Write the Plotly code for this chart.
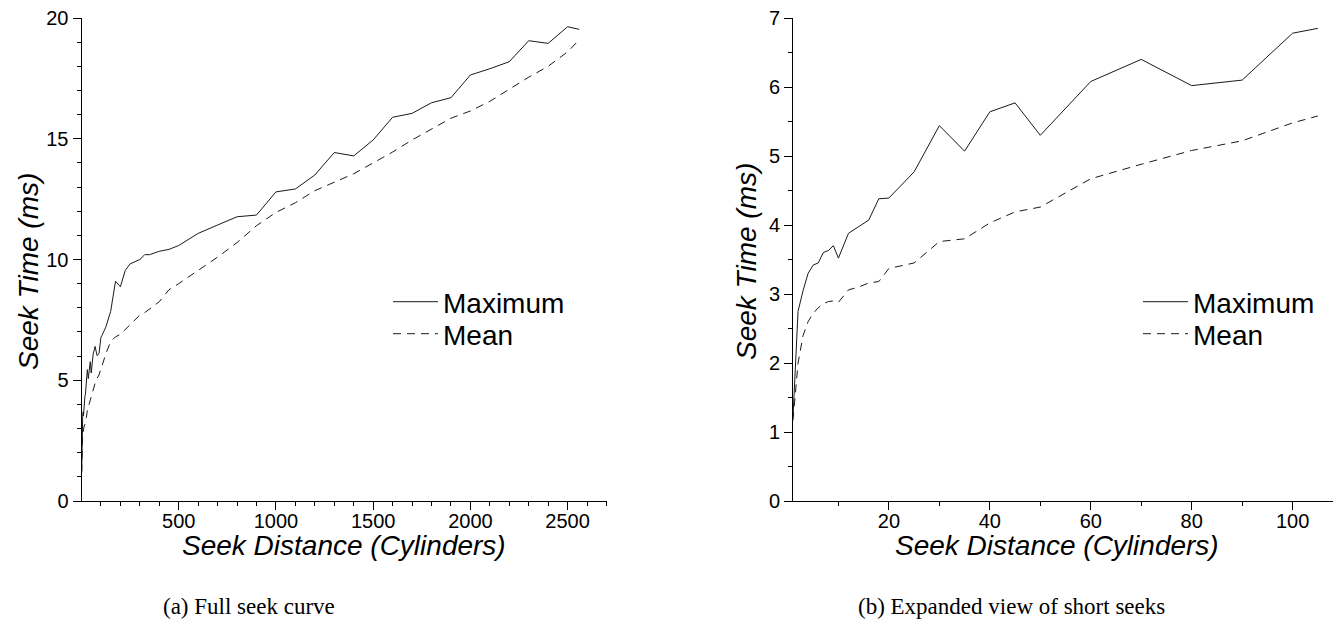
import plotly.graph_objects as go

# ---- data ----
seek_distance = [1, 2, 3, 4, 5, 6, 7, 8, 9, 10, 12, 14, 16, 18, 20, 25, 30, 35, 40, 45, 50,
                 60, 70, 80, 90, 100, 105, 125, 150, 175, 200, 225, 250, 300, 325, 350, 400,
                 450, 500, 600, 700, 800, 900, 1000, 1100, 1200, 1300, 1400, 1500, 1600,
                 1700, 1800, 1900, 2000, 2100, 2200, 2300, 2400, 2500, 2560]
max_seek_time = [1.22, 2.75, 3.05, 3.3, 3.42, 3.45, 3.6, 3.63, 3.7, 3.52, 3.88, 3.98, 4.07,
                 4.38, 4.39, 4.77, 5.44, 5.07, 5.64, 5.77, 5.3, 6.08, 6.4, 6.02, 6.1, 6.78,
                 6.85, 7.2, 7.85, 9.1, 8.87, 9.55, 9.82, 10.0, 10.2, 10.2, 10.34, 10.42,
                 10.58, 11.08, 11.43, 11.77, 11.84, 12.8, 12.92, 13.5, 14.43, 14.29, 14.95,
                 15.89, 16.05, 16.49, 16.7, 17.64, 17.9, 18.19, 19.06, 18.95, 19.64, 19.53]
mean_seek_time = [1.17, 2.0, 2.4, 2.6, 2.72, 2.8, 2.86, 2.89, 2.9, 2.88, 3.06, 3.1, 3.16,
                  3.18, 3.37, 3.45, 3.76, 3.8, 4.03, 4.19, 4.26, 4.67, 4.88, 5.08, 5.22,
                  5.48, 5.58, 6.1, 6.6, 6.8, 6.9, 7.1, 7.3, 7.7, 7.8, 7.95, 8.25, 8.75, 9.0,
                  9.55, 10.1, 10.7, 11.4, 11.95, 12.35, 12.85, 13.2, 13.55, 14.0, 14.45,
                  14.95, 15.4, 15.85, 16.15, 16.55, 17.05, 17.55, 18.0, 18.6, 19.1]

SHORT_LIMIT = 105
short_idx = [i for i, d in enumerate(seek_distance) if d <= SHORT_LIMIT]
short_distance = [seek_distance[i] for i in short_idx]
short_max = [max_seek_time[i] for i in short_idx]
short_mean = [mean_seek_time[i] for i in short_idx]

left_x_ticks = [500, 1000, 1500, 2000, 2500]
left_x_minor = list(range(100, 2701, 100))
left_y_ticks = [0, 5, 10, 15, 20]
left_y_minor = list(range(0, 21))
right_x_ticks = [20, 40, 60, 80, 100]
right_x_minor = [10, 30, 50, 70, 90]
right_y_ticks = [0, 1, 2, 3, 4, 5, 6, 7]
right_y_minor = [0.5, 1.5, 2.5, 3.5, 4.5, 5.5, 6.5]

series_names = ["Maximum", "Mean"]
caption_a = "(a) Full seek curve"
caption_b = "(b) Expanded view of short seeks"
x_title = "Seek Distance (Cylinders)"
y_title = "Seek Time (ms)"

LINE_COLOR = "#1a1a1a"
SANS = "Liberation Sans, Arial, Helvetica, sans-serif"
SERIF = "Liberation Serif, Times New Roman, serif"
DASH = "8px,6px"

W, H = 1335, 622
ydom = [(H - 501) / H, (H - 18) / H]
xdom1 = [81.5 / W, 606.5 / W]
xdom2 = [793 / W, 1333 / W]

fig = go.Figure()
panels = [
    ("x", "y", seek_distance, max_seek_time, mean_seek_time, "legend", "legend2"),
    ("x2", "y2", short_distance, short_max, short_mean, "legend3", "legend4"),
]
for xa, ya, xs, ymax, ymean, lg_max, lg_mean in panels:
    fig.add_trace(go.Scatter(x=xs, y=ymax, mode="lines", name=series_names[0],
                             line=dict(color=LINE_COLOR, width=1), xaxis=xa, yaxis=ya,
                             legend=lg_max))
    fig.add_trace(go.Scatter(x=xs, y=ymean, mode="lines", name=series_names[1],
                             line=dict(color=LINE_COLOR, width=1, dash=DASH), xaxis=xa,
                             yaxis=ya, legend=lg_mean))

axis_common = dict(showline=True, linecolor="black", linewidth=1, showgrid=False,
                   zeroline=False, ticks="outside", ticklen=8, tickwidth=1,
                   tickcolor="black", mirror=False, automargin=False,
                   tickfont=dict(family=SANS, size=20, color="black"))

def minor(vals):
    return dict(tickvals=vals, ticks="outside", ticklen=4, tickwidth=1, tickcolor="black",
                showgrid=False)

def legend_at(px_x, px_y):
    return dict(x=px_x / W, y=(H - px_y) / H, xanchor="left", yanchor="middle",
                font=dict(family=SANS, size=28, color="black"), bgcolor="rgba(0,0,0,0)",
                borderwidth=0, itemwidth=45, itemclick=False, itemdoubleclick=False)

fig.update_layout(
    width=W, height=H, autosize=False,
    margin=dict(l=0, r=0, t=0, b=0, pad=0, autoexpand=False),
    paper_bgcolor="white", plot_bgcolor="white",
    xaxis=dict(domain=xdom1, range=[0, 2700], tickmode="array", tickvals=left_x_ticks,
               minor=minor(left_x_minor), anchor="y", ticklabelstandoff=-6, **axis_common),
    yaxis=dict(domain=ydom, range=[0, 20], tickmode="array", tickvals=left_y_ticks,
               minor=minor(left_y_minor), anchor="x", **axis_common),
    xaxis2=dict(domain=xdom2, range=[1, 108], tickmode="array", tickvals=right_x_ticks,
                minor=minor(right_x_minor), anchor="y2", ticklabelstandoff=-6,
                **axis_common),
    yaxis2=dict(domain=ydom, range=[0, 7], tickmode="array", tickvals=right_y_ticks,
                minor=minor(right_y_minor), anchor="x2", **axis_common),
    legend=legend_at(388, 302),
    legend2=legend_at(388, 334),
    legend3=legend_at(1138, 302),
    legend4=legend_at(1138, 334),
    showlegend=True,
)

title_font = dict(family=SANS, size=28, color="black", style="italic")
annos = [
    dict(text=x_title, x=(xdom1[0] + xdom1[1]) / 2, y=(H - 545) / H),
    dict(text=x_title, x=(xdom2[0] + xdom2[1]) / 2 - 6 / W, y=(H - 545) / H),
    dict(text=y_title, x=28 / W, y=(H - 272) / H, textangle=-90),
    dict(text=y_title, x=746 / W, y=(H - 262) / H, textangle=-90),
]
for a in annos:
    fig.add_annotation(xref="paper", yref="paper", showarrow=False, xanchor="center",
                       yanchor="middle", font=title_font, **a)

cap_font = dict(family=SERIF, size=23, color="black")
fig.add_annotation(text=caption_a, xref="paper", yref="paper", x=249 / W, y=(H - 606) / H,
                   showarrow=False, xanchor="center", yanchor="middle", font=cap_font)
fig.add_annotation(text=caption_b, xref="paper", yref="paper", x=1011 / W, y=(H - 606) / H,
                   showarrow=False, xanchor="center", yanchor="middle", font=cap_font)

fig.write_html("out.html", config={"displayModeBar": False},
               post_script="document.body.style.margin='0';document.body.style.padding='0';")
